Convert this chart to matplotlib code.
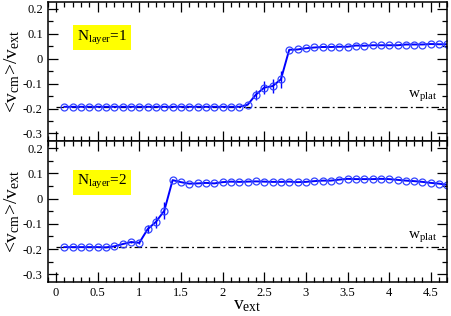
import numpy as np
import matplotlib
matplotlib.use("Agg")
import matplotlib.pyplot as plt
from matplotlib.ticker import MultipleLocator

plt.rcParams['font.family'] = ['Liberation Serif', 'DejaVu Serif']
plt.rcParams['mathtext.fontset'] = 'custom'
plt.rcParams['mathtext.rm'] = 'Liberation Serif'
plt.rcParams['mathtext.it'] = 'Liberation Serif:italic'

# dados
v_ext = np.round(np.arange(1, 48) * 0.1, 1)

vcm_1 = [-0.193] * 22 + [-0.185, -0.144, -0.116, -0.110, -0.083,
         0.036, 0.037, 0.042, 0.045, 0.047, 0.047, 0.048, 0.048, 0.053,
         0.052, 0.054, 0.054, 0.054, 0.054, 0.057, 0.057, 0.057, 0.059,
         0.058, 0.058]
err_1 = [0.0] * 23 + [0.02, 0.025, 0.027, 0.033] + [0.0] * 20

vcm_2 = [-0.192, -0.192, -0.192, -0.192, -0.192, -0.193, -0.189, -0.180,
         -0.172, -0.175, -0.121, -0.092, -0.048, 0.073, 0.065, 0.059,
         0.060, 0.062, 0.060, 0.065, 0.067, 0.066, 0.067, 0.068, 0.067,
         0.066, 0.066, 0.067, 0.065, 0.066, 0.069, 0.071, 0.071, 0.075,
         0.078, 0.077, 0.077, 0.077, 0.078, 0.077, 0.074, 0.071, 0.069,
         0.066, 0.062, 0.059, 0.054]
err_2 = [0.0] * 8 + [0.004, 0.004, 0.016, 0.025, 0.033] + [0.0] * 34

w_plat = -0.193
paineis = [(vcm_1, err_1, "1", 0.085), (vcm_2, err_2, "2", 0.064)]

fig = plt.figure(figsize=(4.52, 3.16), dpi=100)
ax1 = fig.add_axes([0.1055, 0.554, 0.8845, 0.44])
ax2 = fig.add_axes([0.1055, 0.1076, 0.8845, 0.4464])

for ax, (vcm, err, n, ytxt) in zip([ax1, ax2], paineis):
    ax.plot([0, 4.7], [w_plat, w_plat], color="black", lw=0.9,
            linestyle=(0, (6, 2.5, 1.5, 2.5)))
    ax.errorbar(v_ext, vcm, yerr=err, color="#0000ff", lw=1.4, elinewidth=1.0,
                capsize=0, marker="o", markersize=5, markerfacecolor="none",
                markeredgecolor="#3344ff", markeredgewidth=0.9)
    ax.set_xlim(-0.1, 4.7)
    ax.set_ylim(-0.33, 0.228)
    ax.xaxis.set_major_locator(MultipleLocator(0.5))
    ax.xaxis.set_minor_locator(MultipleLocator(0.1))
    ax.yaxis.set_major_locator(MultipleLocator(0.1))
    ax.yaxis.set_minor_locator(MultipleLocator(0.05))
    ax.tick_params(which="both", direction="in", top=True, right=True,
                   labelsize=9, width=0.9)
    ax.tick_params(which="major", length=7)
    ax.tick_params(which="minor", length=3.5)
    for s in ax.spines.values():
        s.set_linewidth(1.1)
    ax.set_yticks([0.2, 0.1, 0, -0.1, -0.2, -0.3])
    ax.set_yticklabels(["0.2", "0.1", "0", "-0.1", "-0.2", "-0.3"])
    ax.set_ylabel(r"<v$_{\rm cm}$>/v$_{\rm ext}$", fontsize=14, labelpad=1)
    ax.text(0.25, ytxt, r"N$_{\rm layer}$=" + n, fontsize=11, va="center",
            bbox=dict(facecolor="#ffff00", edgecolor="none", pad=2.5))
    ax.text(4.22, -0.155, r"w$_{\rm plat}$", fontsize=11, va="baseline")

ax1.tick_params(labelbottom=False)
ax2.set_xticks([0, 0.5, 1, 1.5, 2, 2.5, 3, 3.5, 4, 4.5])
ax2.set_xticklabels(["0", "0.5", "1", "1.5", "2", "2.5", "3", "3.5", "4", "4.5"])
ax2.set_xlabel(r"v$_{\rm ext}$", fontsize=14, labelpad=-1)

fig.savefig("out.png", dpi=100)
